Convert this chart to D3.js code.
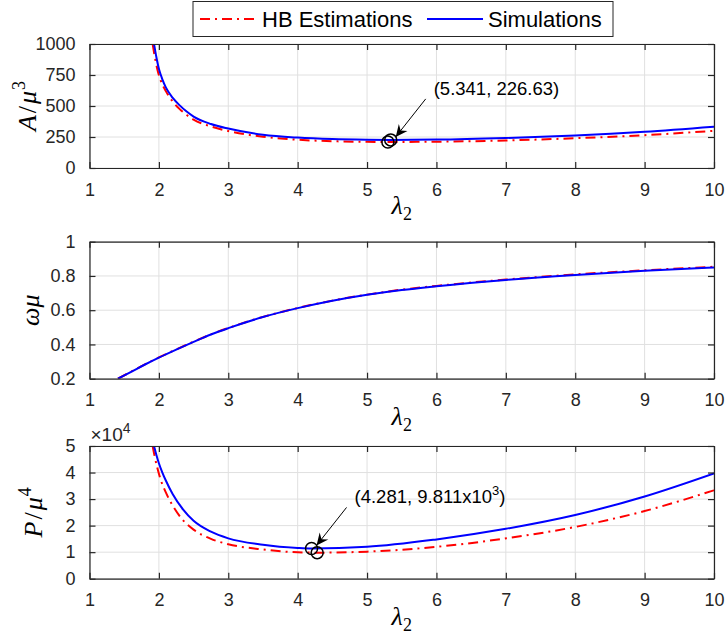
<!DOCTYPE html>
<html>
<head>
<meta charset="utf-8">
<script src="https://cdn.jsdelivr.net/npm/d3@7"></script>
<style>
  body { margin: 0; background: #fff; }
  svg { display: block; }
</style>
</head>
<body>
<svg id="fig" width="725" height="637"></svg>
<script>
// ---------------- data ----------------
const xTicks = [1, 2, 3, 4, 5, 6, 7, 8, 9, 10];

// Panel 1: A / mu^3
const simLamA = [1.93, 1.96, 2.0, 2.05, 2.1, 2.2, 2.3, 2.4, 2.5, 2.75, 3.0, 3.5, 4.0, 4.5, 5.0, 5.341, 6.0, 7.0, 8.0, 9.0, 10.0];
const simA    = [1000, 905, 800, 715, 650, 565, 505, 455, 415, 355, 318, 268, 245, 233, 228, 226.63, 229, 242, 262, 292, 333];
const hbLamA  = [1.91, 1.94, 1.98, 2.03, 2.1, 2.2, 2.3, 2.4, 2.5, 2.75, 3.0, 3.5, 4.0, 4.5, 5.0, 5.3, 6.0, 7.0, 8.0, 9.0, 10.0];
const hbA     = [1000, 900, 790, 700, 620, 535, 475, 428, 390, 335, 298, 252, 228, 216, 211, 210, 212, 222, 240, 265, 300];
const yTicksA = [0, 250, 500, 750, 1000];

// Panel 2: omega * mu
const lamW    = [1.41, 1.6, 1.8, 2.0, 2.25, 2.5, 2.75, 3.0, 3.5, 4.0, 4.5, 5.0, 5.5, 6.0, 7.0, 8.0, 9.0, 10.0];
const simW    = [0.2, 0.24, 0.283, 0.323, 0.37, 0.415, 0.458, 0.495, 0.56, 0.612, 0.655, 0.69, 0.718, 0.74, 0.777, 0.806, 0.83, 0.85];
const hbW     = [0.2, 0.241, 0.284, 0.324, 0.371, 0.416, 0.459, 0.496, 0.561, 0.613, 0.656, 0.691, 0.72, 0.742, 0.779, 0.809, 0.833, 0.854];
const yTicksW = [0.2, 0.4, 0.6, 0.8, 1];

// Panel 3: P / mu^4
const simLamP = [1.93, 1.96, 2.0, 2.05, 2.1, 2.2, 2.35, 2.5, 2.75, 3.0, 3.5, 4.0, 4.2, 5.0, 6.0, 7.0, 8.0, 9.0, 10.0];
const simP    = [50000, 47000, 43500, 40000, 37000, 31800, 26000, 21800, 17700, 15200, 12800, 11600, 11400, 12000, 14800, 18800, 24000, 31000, 39700];
const hbLamP  = [1.91, 1.94, 1.98, 2.03, 2.1, 2.2, 2.35, 2.5, 2.75, 3.0, 3.5, 4.0, 4.281, 5.0, 6.0, 7.0, 8.0, 9.0, 10.0];
const hbP     = [50000, 46000, 41500, 37000, 32500, 27500, 22000, 18500, 15000, 13000, 11000, 9950, 9811, 10200, 12000, 15200, 19500, 25500, 33300];
const yTicksP = [0, 10000, 20000, 30000, 40000, 50000];

// marked minima and their annotation text
const markA = { sim: [5.341, 226.63], hb: [5.3, 210], label: "(5.341, 226.63)" };
const markP = { sim: [4.2, 11400], hb: [4.281, 9811], label: "(4.281, 9.811x10", sup: "3", tail: ")" };

const legendNames = ["HB Estimations", "Simulations"];

// ---------------- styling ----------------
const axisColor = "#262626";
const gridColor = "#e0e0e0";
const simColor = "#0000ff";
const hbColor = "#ff0000";
const hbDash = "10,5,2,5";
const sansFont = "'Liberation Sans', Arial, Helvetica, sans-serif";
const serifFont = "'Liberation Serif', 'DejaVu Serif', serif";

const svg = d3.select("#fig");
const left = 89.5, right = 714;
const x = d3.scaleLinear().domain([1, 10]).range([left, right]);

const panels = [
  { top: 44, bottom: 168, domain: [0, 1000], ticks: yTicksA, fmt: d => String(d),
    sim: simLamA.map((l, i) => [l, simA[i]]), hb: hbLamA.map((l, i) => [l, hbA[i]]),
    ylabX: 36, ylab: [["A", true], ["/", false], ["μ", true]], ylabSup: "3" },
  { top: 241.7, bottom: 378.7, domain: [0.2, 1], ticks: yTicksW, fmt: d => String(d),
    sim: lamW.map((l, i) => [l, simW[i]]), hb: lamW.map((l, i) => [l, hbW[i]]),
    ylabX: 39, ylab: [["ωμ", true]], ylabSup: null },
  { top: 446, bottom: 578.7, domain: [0, 50000], ticks: yTicksP, fmt: d => String(d / 10000),
    sim: simLamP.map((l, i) => [l, simP[i]]), hb: hbLamP.map((l, i) => [l, hbP[i]]),
    ylabX: 42, ylab: [["P", true], ["/", false], ["μ", true]], ylabSup: "4" }
];

panels.forEach((p, k) => {
  const y = d3.scaleLinear().domain(p.domain).range([p.bottom, p.top]);
  p.y = y;
  const g = svg.append("g");

  // grid
  g.append("g").selectAll("line").data(xTicks).join("line")
    .attr("x1", d => x(d)).attr("x2", d => x(d))
    .attr("y1", p.top).attr("y2", p.bottom)
    .attr("stroke", gridColor).attr("stroke-width", 1);
  g.append("g").selectAll("line").data(p.ticks).join("line")
    .attr("x1", left).attr("x2", right)
    .attr("y1", d => y(d)).attr("y2", d => y(d))
    .attr("stroke", gridColor).attr("stroke-width", 1);

  // clip region for curves
  const clipId = "clip" + k;
  svg.append("clipPath").attr("id", clipId).append("rect")
    .attr("x", left).attr("y", p.top).attr("width", right - left).attr("height", p.bottom - p.top);

  const line = d3.line().x(d => x(d[0])).y(d => y(d[1])).curve(d3.curveMonotoneX);
  const curves = g.append("g").attr("clip-path", `url(#${clipId})`);
  curves.append("path").attr("d", line(p.hb))
    .attr("fill", "none").attr("stroke", hbColor).attr("stroke-width", 2)
    .attr("stroke-dasharray", hbDash);
  curves.append("path").attr("d", line(p.sim))
    .attr("fill", "none").attr("stroke", simColor).attr("stroke-width", 2);

  // axes (box with inward ticks on all four sides)
  const tickLen = 6;
  const axB = g.append("g").attr("transform", `translate(0,${p.bottom})`)
    .call(d3.axisBottom(x).tickValues(xTicks).tickSizeInner(-tickLen).tickSizeOuter(0).tickPadding(tickLen + 9).tickFormat(d3.format("d")));
  const axT = g.append("g").attr("transform", `translate(0,${p.top})`)
    .call(d3.axisTop(x).tickValues(xTicks).tickSizeInner(-tickLen).tickSizeOuter(0).tickFormat(""));
  const axL = g.append("g").attr("transform", `translate(${left},0)`)
    .call(d3.axisLeft(y).tickValues(p.ticks).tickSizeInner(-tickLen).tickSizeOuter(0).tickPadding(tickLen + 8).tickFormat(p.fmt));
  const axR = g.append("g").attr("transform", `translate(${right},0)`)
    .call(d3.axisRight(y).tickValues(p.ticks).tickSizeInner(-tickLen).tickSizeOuter(0).tickFormat(""));
  [axB, axT, axL, axR].forEach(a => {
    a.select(".domain").attr("stroke", axisColor).attr("stroke-width", 1.2);
    a.selectAll(".tick line").attr("stroke", axisColor).attr("stroke-width", 1.2);
    a.selectAll("text").attr("fill", axisColor).attr("font-family", sansFont).attr("font-size", 18);
  });
  axB.selectAll("text").attr("dy", "0.71em");

  // x label: lambda_2
  const xl = g.append("text").attr("x", (left + right) / 2).attr("y", p.bottom + 46)
    .attr("text-anchor", "middle").attr("font-family", serifFont).attr("font-size", 26).attr("fill", "#000");
  xl.append("tspan").attr("font-style", "italic").text("λ");
  xl.append("tspan").attr("font-size", 18).attr("dy", 6).text("2");

  // y label
  const yl = g.append("text")
    .attr("transform", `translate(${p.ylabX},${(p.top + p.bottom) / 2}) rotate(-90)`)
    .attr("text-anchor", "middle").attr("font-family", serifFont).attr("font-size", 26).attr("fill", "#000");
  p.ylab.forEach(([s, it]) => {
    const t = yl.append("tspan").text(s);
    if (it) t.attr("font-style", "italic");
    if (s === "/" || s === "μ") t.attr("dx", 2);
  });
  if (p.ylabSup) yl.append("tspan").attr("font-size", 18).attr("dy", -11).attr("dx", 1).text(p.ylabSup);
});

// exponent label for the bottom panel
const expo = svg.append("text").attr("x", left + 1).attr("y", panels[2].top - 5)
  .attr("font-family", sansFont).attr("font-size", 19).attr("fill", axisColor);
expo.append("tspan").text("×10");
expo.append("tspan").attr("font-size", 14).attr("dy", -8).text("4");

// minima markers with arrows and value labels
function annotate(p, mark) {
  const pts = [mark.sim, mark.hb].map(d => [x(d[0]), p.y(d[1])]);
  svg.append("g").selectAll("circle").data(pts).join("circle")
    .attr("cx", d => d[0]).attr("cy", d => d[1]).attr("r", 6)
    .attr("fill", "none").attr("stroke", "#000").attr("stroke-width", 1.5);
  const tip = [pts[0][0] + 5, pts[0][1] - 3];
  const tail = [tip[0] + 30, tip[1] - 38];
  svg.append("line").attr("x1", tail[0]).attr("y1", tail[1]).attr("x2", tip[0]).attr("y2", tip[1])
    .attr("stroke", "#000").attr("stroke-width", 1);
  const ang = Math.atan2(tip[1] - tail[1], tip[0] - tail[0]) * 180 / Math.PI;
  svg.append("path").attr("d", "M0,0 L-12,-5.5 L-8,0 L-12,5.5 Z")
    .attr("transform", `translate(${tip[0]},${tip[1]}) rotate(${ang})`).attr("fill", "#000");
  const t = svg.append("text").attr("x", tail[0] + 8).attr("y", tail[1] - 4)
    .attr("font-family", sansFont).attr("font-size", 18.5).attr("fill", "#000");
  t.append("tspan").text(mark.label);
  if (mark.sup) {
    t.append("tspan").attr("font-size", 13).attr("dy", -8).text(mark.sup);
    t.append("tspan").attr("dy", 8).text(mark.tail);
  }
}
annotate(panels[0], markA);
annotate(panels[2], markP);

// legend
const lg = svg.append("g");
lg.append("rect").attr("x", 193).attr("y", 1.5).attr("width", 420).attr("height", 35)
  .attr("fill", "#fff").attr("stroke", axisColor).attr("stroke-width", 1);
const legendItems = [
  { name: legendNames[0], color: hbColor, dash: hbDash, x0: 200, x1: 255, tx: 262 },
  { name: legendNames[1], color: simColor, dash: null, x0: 427, x1: 483, tx: 488 }
];
legendItems.forEach(it => {
  lg.append("line").attr("x1", it.x0).attr("x2", it.x1).attr("y1", 19).attr("y2", 19)
    .attr("stroke", it.color).attr("stroke-width", 2).attr("stroke-dasharray", it.dash);
  lg.append("text").attr("x", it.tx).attr("y", 27).attr("font-family", sansFont)
    .attr("font-size", 22).attr("fill", "#000").text(it.name);
});
</script>
</body>
</html>
